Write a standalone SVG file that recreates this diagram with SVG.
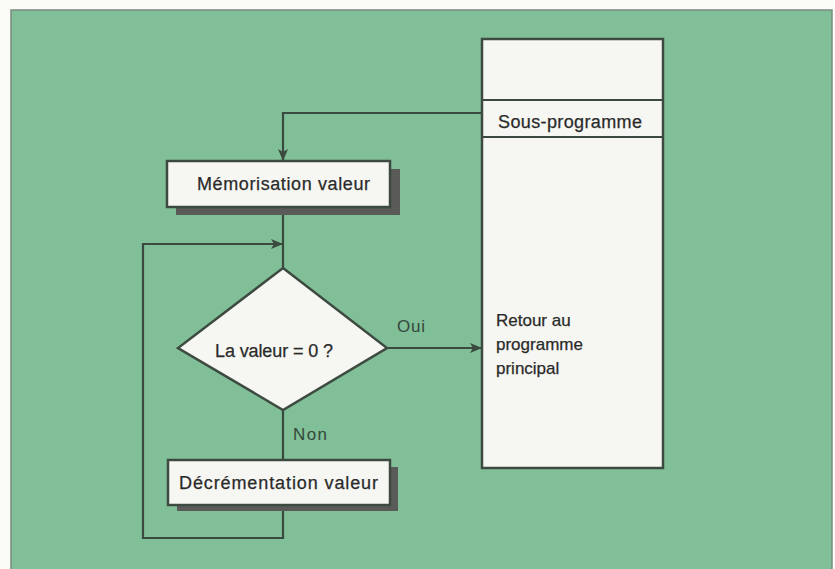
<svg xmlns="http://www.w3.org/2000/svg" width="835" height="569" viewBox="0 0 835 569">
<style>
.bg{fill:#80bf98;stroke:#7a8a80;stroke-width:1.5}
.box{fill:#f6f6f2;stroke:#3d4a40;stroke-width:2.5}
.shadow{fill:#5a5a58}
.ln{fill:none;stroke:#3a4a3e;stroke-width:2.2}
.t{font-family:"Liberation Sans",Arial,sans-serif;font-size:18px;fill:#2a2a2a;stroke:#2a2a2a;stroke-width:0.25}
.r{font-size:17px}
.lb{font-family:"Liberation Sans",Arial,sans-serif;font-size:17px;fill:#34483a}
</style>
<defs>
<marker id="ah" viewBox="0 0 12 10" refX="11" refY="5" markerWidth="12" markerHeight="10" markerUnits="userSpaceOnUse" orient="auto">
<path d="M0,0 L12,5 L0,10 L3,5 Z" fill="#3a4a3e"/>
</marker>
</defs>
<rect x="0" y="0" width="835" height="569" fill="#fbfbf8"/>
<rect class="bg" x="11" y="10" width="821" height="562"/>

<g id="connectors">
<polyline class="ln" points="481,113 283,113 283,160" marker-end="url(#ah)"/>
<line class="ln" x1="283" y1="215" x2="283" y2="268"/>
<polyline class="ln" points="283,510 283,538 143,538 143,244 282,244" marker-end="url(#ah)"/>
<line class="ln" x1="387" y1="348" x2="481" y2="348" marker-end="url(#ah)"/>
<line class="ln" x1="283" y1="410" x2="283" y2="460"/>
<text class="lb" x="397" y="332" textLength="28" lengthAdjust="spacing">Oui</text>
<text class="lb" x="293" y="440" textLength="34" lengthAdjust="spacing">Non</text>
</g>

<g id="memorisation">
<rect class="shadow" x="176" y="169" width="224" height="46"/>
<rect class="box" x="167" y="161" width="223" height="46"/>
<text class="t" x="197" y="190" textLength="173" lengthAdjust="spacing">Mémorisation valeur</text>
</g>

<g id="decision">
<polygon class="box" points="283,268 387,348 283,410 178,348"/>
<text class="t" x="215" y="357" textLength="118" lengthAdjust="spacing">La valeur = 0 ?</text>
</g>

<g id="decrementation">
<rect class="shadow" x="177" y="467" width="221" height="44"/>
<rect class="box" x="168" y="460" width="222" height="45"/>
<text class="t" x="179" y="489" textLength="199" lengthAdjust="spacing">Décrémentation valeur</text>
</g>

<g id="memoire">
<rect class="box" x="482" y="39" width="181" height="429"/>
<line class="ln" x1="482" y1="100" x2="663" y2="100"/>
<line class="ln" x1="482" y1="137" x2="663" y2="137"/>
<text class="t" x="498" y="128" textLength="144" lengthAdjust="spacing">Sous-programme</text>
<text class="t r" x="496" y="326">Retour au</text>
<text class="t r" x="496" y="350">programme</text>
<text class="t r" x="496" y="374">principal</text>
</g>
</svg>
